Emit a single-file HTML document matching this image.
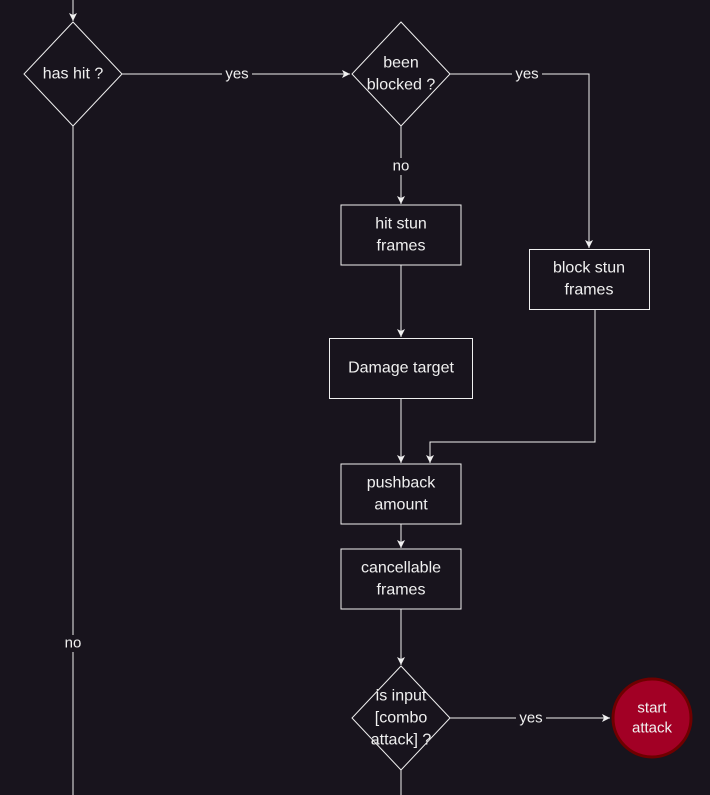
<!DOCTYPE html>
<html><head><meta charset="utf-8"><style>
html,body{margin:0;padding:0;background:#18141d;}
svg{display:block;}
text{font-family:"Liberation Sans",Arial,sans-serif;font-size:16px;fill:#f0f0f0;text-anchor:middle;dominant-baseline:central;}
</style></head><body>
<svg width="710" height="795" viewBox="0 0 710 795" xmlns="http://www.w3.org/2000/svg">
<defs><marker id="a" markerWidth="10" markerHeight="10" refX="9" refY="5" orient="auto" markerUnits="userSpaceOnUse"><path d="M1,1 L9,5 L1,9 L3,5 Z" fill="#f0f0f0"/></marker></defs>
<g stroke="#f0f0f0" stroke-width="1" fill="none">
<path d="M73,0 V21" marker-end="url(#a)"/>
<path d="M73,126 V795"/>
<path d="M122,74 H350" marker-end="url(#a)"/>
<path d="M450,74 H589 V248" marker-end="url(#a)"/>
<path d="M401,126 V204" marker-end="url(#a)"/>
<path d="M401,265 V337" marker-end="url(#a)"/>
<path d="M401,398 V463" marker-end="url(#a)"/>
<path d="M595,309 V442 H430 V463" marker-end="url(#a)"/>
<path d="M401,524 V548" marker-end="url(#a)"/>
<path d="M401,609 V665" marker-end="url(#a)"/>
<path d="M401,770 V795"/>
<path d="M450,718 H610" marker-end="url(#a)"/>
<path d="M73,22 L122,74 L73,126 L24,74 Z"/>
<path d="M401,22 L450,74 L401,126 L352,74 Z"/>
<path d="M401,666 L450,718 L401,770 L352,718 Z"/>
<rect x="341" y="205" width="120" height="60"/>
<rect x="329.5" y="338.5" width="143" height="60"/>
<rect x="529.5" y="249.5" width="120" height="60"/>
<rect x="341" y="464" width="120" height="60"/>
<rect x="341" y="549" width="120" height="60"/>
</g>
<circle cx="652" cy="718" r="39" fill="#a20025" stroke="#6f0000" stroke-width="3"/>
<g fill="#18141d">
<rect x="222" y="66" width="30" height="17"/>
<rect x="512" y="66" width="30" height="17"/>
<rect x="389" y="158" width="24" height="17"/>
<rect x="61" y="635" width="24" height="17"/>
<rect x="516" y="710" width="30" height="17"/>
</g>
<text x="237" y="74" style="font-size:15px">yes</text>
<text x="527" y="74" style="font-size:15px">yes</text>
<text x="401" y="166" style="font-size:15px">no</text>
<text x="73" y="643" style="font-size:15px">no</text>
<text x="531" y="718" style="font-size:15px">yes</text>
<text x="73" y="74">has hit ?</text>
<text x="401" y="63">been</text><text x="401" y="85">blocked ?</text>
<text x="401" y="224">hit stun</text><text x="401" y="246">frames</text>
<text x="401" y="368">Damage target</text>
<text x="589" y="268">block stun</text><text x="589" y="290">frames</text>
<text x="401" y="483">pushback</text><text x="401" y="505">amount</text>
<text x="401" y="568">cancellable</text><text x="401" y="590">frames</text>
<text x="401" y="696">is input</text><text x="401" y="718">[combo</text><text x="401" y="740">attack] ?</text>
<text x="652" y="708" style="font-size:15px">start</text><text x="652" y="728" style="font-size:15px">attack</text>
</svg>
</body></html>
